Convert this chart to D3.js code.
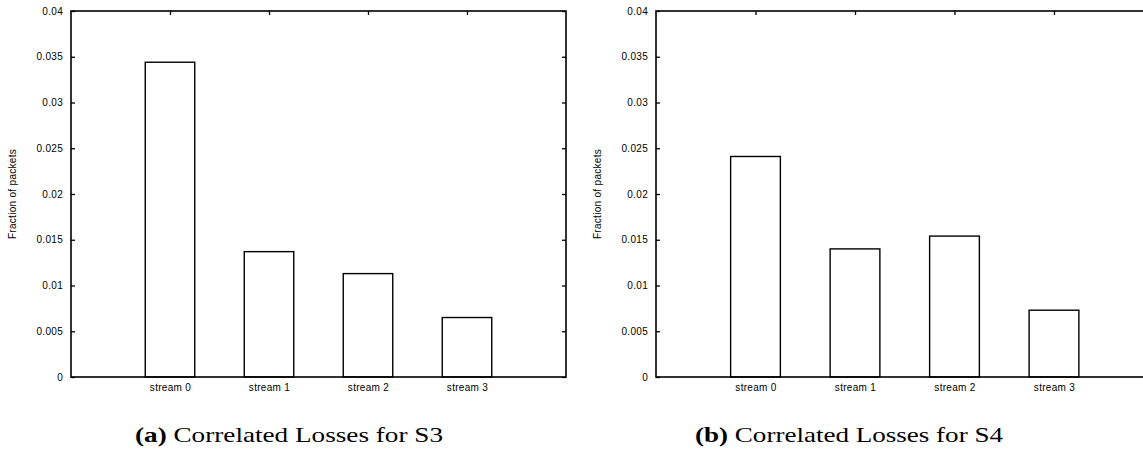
<!DOCTYPE html>
<html>
<head>
<meta charset="utf-8">
<script src="https://cdn.jsdelivr.net/npm/d3@7"></script>
<style>
  html, body { margin: 0; padding: 0; background: #fff; }
  svg { display: block; }
  .tick text { font-family: "Liberation Sans", Arial, sans-serif; font-size: 10px; letter-spacing: 0.3px; fill: #000; }
  .axis path.domain { display: none; }
  .axis line { stroke: #000; stroke-width: 1.3; }
</style>
</head>
<body>
<svg id="chart" width="1143" height="449"></svg>
<script>
// Stream categories shared by both panels
const categories = ["stream 0", "stream 1", "stream 2", "stream 3"];
// Fraction of packets with correlated losses, per stream
const lossesS3 = [0.0344, 0.0137, 0.0113, 0.0065];
const lossesS4 = [0.0241, 0.0140, 0.0154, 0.0073];
// Y-axis tick values
const yTicks = [0, 0.005, 0.01, 0.015, 0.02, 0.025, 0.03, 0.035, 0.04];
const yLabel = "Fraction of packets";
const captions = [
  { tag: "(a)", text: " Correlated Losses for S3" },
  { tag: "(b)", text: " Correlated Losses for S4" }
];

const svg = d3.select("#chart");

function drawPanel(values, caption, layout) {
  const g = svg.append("g");
  const x = d3.scaleLinear().domain([-1, 4]).range([layout.left, layout.right]);
  const y = d3.scaleLinear().domain([0, 0.04]).range([layout.bottom, layout.top]);
  const fmt = d => String(+d.toFixed(3));

  // left axis with labels, ticks pointing inward
  g.append("g").attr("class", "axis")
    .attr("transform", `translate(${layout.left},0)`)
    .call(d3.axisLeft(y).tickValues(yTicks).tickFormat(fmt).tickSize(-4).tickPadding(8));
  // mirrored right ticks
  g.append("g").attr("class", "axis")
    .attr("transform", `translate(${layout.right},0)`)
    .call(d3.axisRight(y).tickValues(yTicks).tickFormat("").tickSize(-4));
  // bottom axis with category labels
  g.append("g").attr("class", "axis")
    .attr("transform", `translate(0,${layout.bottom})`)
    .call(d3.axisBottom(x).tickValues(d3.range(categories.length))
      .tickFormat(i => categories[i]).tickSize(-4).tickPadding(7));
  // mirrored top ticks
  g.append("g").attr("class", "axis")
    .attr("transform", `translate(0,${layout.top})`)
    .call(d3.axisTop(x).tickValues(d3.range(categories.length)).tickFormat("").tickSize(-4));

  // bars
  const bw = x(0.25) - x(-0.25);
  g.selectAll("rect.bar").data(values).join("rect")
    .attr("class", "bar")
    .attr("x", (d, i) => x(i) - bw / 2)
    .attr("y", d => y(d))
    .attr("width", bw)
    .attr("height", d => y(0) - y(d))
    .attr("fill", "#fff")
    .attr("stroke", "#000")
    .attr("stroke-width", 1.4);

  // plot frame
  g.append("rect")
    .attr("x", layout.left).attr("y", layout.top)
    .attr("width", layout.right - layout.left)
    .attr("height", layout.bottom - layout.top)
    .attr("fill", "none").attr("stroke", "#000").attr("stroke-width", 1.6);

  // y label
  g.append("text")
    .attr("transform", `translate(${layout.labelX},${(layout.top + layout.bottom) / 2}) rotate(-90)`)
    .attr("text-anchor", "middle")
    .attr("dy", "0.35em")
    .style("font-family", '"Liberation Sans", Arial, sans-serif')
    .style("font-size", "10px")
    .style("letter-spacing", "0.3px")
    .text(yLabel);

  // caption
  const cap = svg.append("text")
    .attr("x", layout.capX).attr("y", 442)
    .attr("textLength", 308).attr("lengthAdjust", "spacingAndGlyphs")
    .style("font-family", '"Liberation Serif", "DejaVu Serif", serif')
    .style("font-size", "21px");
  cap.append("tspan").style("font-weight", "bold").text(caption.tag);
  cap.append("tspan").text(caption.text);
}

drawPanel(lossesS3, captions[0], { left: 71, right: 566, top: 11, bottom: 377, labelX: 12, capX: 135 });
drawPanel(lossesS4, captions[1], { left: 656, right: 1153.5, top: 11, bottom: 377, labelX: 597, capX: 695 });
</script>
</body>
</html>
